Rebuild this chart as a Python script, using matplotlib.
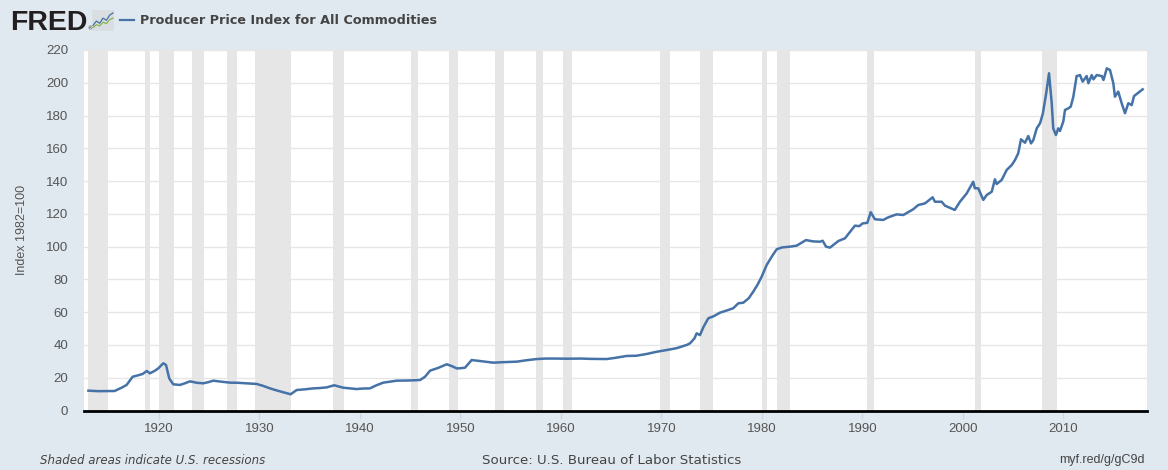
import matplotlib
matplotlib.use("Agg")
import matplotlib.pyplot as plt
import numpy as np

# ---------------- data ----------------
dates = [1913.0, 1914.0, 1915.0, 1915.6, 1916.3, 1916.8, 1917.4, 1917.96, 1918.4, 1918.8,
         1919.12, 1919.62, 1919.95, 1920.45, 1920.72, 1921.04, 1921.44, 1922.1, 1922.6, 1923.1,
         1923.8, 1924.43, 1925.0, 1925.42, 1926.2, 1927.08, 1927.9, 1928.75, 1929.74, 1930.4,
         1931.07, 1931.7, 1932.39, 1933.12, 1933.72, 1934.5, 1935.37, 1936.0, 1936.7, 1937.46,
         1938.36, 1939.0, 1939.69, 1940.3, 1941.01, 1941.7, 1942.34, 1943.0, 1943.67, 1944.8,
         1946.0, 1946.49, 1946.99, 1947.8, 1948.65, 1949.2, 1949.64, 1950.0, 1950.47, 1951.13,
         1951.96, 1953.28, 1954.3, 1955.61, 1956.5, 1957.6, 1958.5, 1959.5, 1960.59, 1962.0,
         1963.0, 1964.57, 1965.5, 1966.56, 1967.5, 1968.55, 1969.5, 1970.54, 1971.5, 1972.53,
         1972.86, 1973.3, 1973.52, 1973.85, 1974.2, 1974.68, 1975.2, 1975.84, 1976.5, 1977.16,
         1977.66, 1978.16, 1978.7, 1979.15, 1979.6, 1979.99, 1980.49, 1980.99, 1981.48, 1982.0,
         1982.81, 1983.47, 1984.4, 1985.1, 1985.79, 1986.06, 1986.39, 1986.79, 1987.61, 1988.28,
         1988.61, 1989.27, 1989.7, 1990.04, 1990.5, 1990.84, 1991.26, 1992.09, 1992.59, 1993.42,
         1994.08, 1995.07, 1995.57, 1996.24, 1997.0, 1997.23, 1997.9, 1998.23, 1999.2, 1999.72,
         2000.39, 2001.04, 2001.2, 2001.54, 2002.04, 2002.38, 2002.88, 2003.2, 2003.37, 2003.87,
         2004.37, 2004.87, 2005.2, 2005.52, 2005.79, 2006.19, 2006.52, 2006.79, 2007.02, 2007.36,
         2007.69, 2007.96, 2008.3, 2008.58, 2008.85, 2009.0, 2009.27, 2009.5, 2009.67, 2010.0,
         2010.17, 2010.5, 2010.74, 2011.0, 2011.33, 2011.66, 2011.93, 2012.33, 2012.5, 2012.83,
         2013.0, 2013.33, 2013.83, 2014.0, 2014.33, 2014.65, 2014.98, 2015.14, 2015.47, 2015.81,
         2016.14, 2016.47, 2016.81, 2017.04, 2017.46, 2017.9]

ppi = [12.1, 11.8, 11.9, 11.9, 13.9, 15.6, 20.6, 21.5, 22.3, 24.1,
       22.7, 24.3, 25.7, 28.8, 27.8, 19.6, 16.0, 15.6, 16.6, 17.8,
       16.9, 16.6, 17.4, 18.2, 17.6, 17.0, 16.9, 16.6, 16.2, 15.0,
       13.5, 12.3, 11.1, 9.9, 12.5, 12.9, 13.5, 13.7, 14.1, 15.4,
       13.9, 13.5, 13.1, 13.4, 13.5, 15.5, 17.0, 17.6, 18.2, 18.3,
       18.6, 20.6, 24.3, 26.0, 28.2, 27.0, 25.7, 25.8, 26.1, 30.8,
       30.2, 29.2, 29.5, 29.8, 30.6, 31.4, 31.7, 31.7, 31.6, 31.7,
       31.5, 31.4, 32.2, 33.3, 33.4, 34.5, 35.8, 36.9, 38.0, 40.0,
       41.0, 44.0, 47.1, 46.0, 51.0, 56.3, 57.5, 59.7, 61.0, 62.4,
       65.4, 65.8, 68.5, 72.5, 77.0, 81.7, 88.8, 93.9, 98.4, 99.5,
       100.0, 100.6, 104.0, 103.2, 103.0, 103.6, 100.0, 99.4, 103.4, 105.1,
       107.7, 112.8, 112.5, 114.2, 114.5, 121.0, 116.7, 116.3, 117.9, 119.7,
       119.3, 122.8, 125.4, 126.4, 130.1, 127.4, 127.4, 125.0, 122.4, 127.4,
       132.5, 139.6, 135.6, 135.6, 128.5, 131.5, 133.5, 141.1, 138.2, 140.7,
       146.8, 149.8, 152.9, 157.0, 165.5, 163.4, 167.5, 163.0, 165.0, 172.2,
       175.3, 181.0, 193.6, 205.8, 187.5, 172.2, 168.1, 172.2, 170.6, 176.3,
       183.4, 184.4, 185.4, 191.5, 204.1, 204.7, 200.7, 204.1, 199.7, 204.7,
       202.1, 204.7, 204.1, 201.7, 208.8, 207.8, 199.7, 191.5, 194.6, 187.5,
       181.4, 187.5, 186.4, 191.9, 193.9, 196.0]

rec_start = [1913.0, 1918.58, 1920.0, 1923.33, 1926.75, 1929.58, 1937.33, 1945.08, 1948.83,
             1953.5, 1957.58, 1960.25, 1969.92, 1973.83, 1980.0, 1981.5, 1990.5, 2001.17, 2007.92]
rec_end = [1914.92, 1919.17, 1921.5, 1924.5, 1927.83, 1933.17, 1938.42, 1945.75, 1949.75,
           1954.33, 1958.25, 1961.08, 1970.83, 1975.17, 1980.5, 1982.83, 1991.17, 2001.83, 2009.42]

x_ticks = [1920, 1930, 1940, 1950, 1960, 1970, 1980, 1990, 2000, 2010]
y_ticks = [0, 20, 40, 60, 80, 100, 120, 140, 160, 180, 200, 220]

# tiny decorative logo icon lines
icon_x = [0, 1, 2, 3, 4, 5, 6]
icon_blue = [1.0, 2.2, 1.6, 3.0, 2.4, 3.8, 4.4]
icon_green = [0.4, 1.2, 0.9, 1.9, 1.5, 2.6, 3.0]

# ---------------- style ----------------
BG = "#e1e9f0"
LINE = "#4572a7"
W, H = 1168, 470

fig = plt.figure(figsize=(W / 100, H / 100), dpi=100, facecolor=BG)
L, R, T, B = 84, 1147, 50, 410.5
ax = fig.add_axes([L / W, 1 - B / H, (R - L) / W, (B - T) / H])
ax.set_facecolor("white")

for s, e in zip(rec_start, rec_end):
    ax.axvspan(s, e, color="#e6e6e6", lw=0, zorder=0.5)

ax.plot(dates, ppi, color=LINE, lw=1.8, zorder=3, solid_joinstyle="round")

ax.set_xlim(1912.56, 2018.33)
ax.set_ylim(0, 220)
ax.set_yticks(y_ticks)
ax.set_xticks(x_ticks)
ax.yaxis.grid(True, color="#e6e6e6", lw=1, zorder=1)
ax.xaxis.grid(False)
ax.set_axisbelow(False)
for sp in ["top", "right", "left"]:
    ax.spines[sp].set_visible(False)
ax.spines["bottom"].set_color("black")
ax.spines["bottom"].set_linewidth(2)
ax.spines["bottom"].set_zorder(4)
ax.tick_params(axis="y", length=0, pad=11.5, labelsize=9.5, labelcolor="#555555")
ax.tick_params(axis="x", length=6, width=1, color="#ccd6eb", pad=3, labelsize=9.5,
               labelcolor="#555555")
for lab in ax.get_xticklabels() + ax.get_yticklabels():
    lab.set_fontfamily("Liberation Sans")

fig.text(22 / W, 1 - 230 / H, "Index 1982=100", rotation=90, ha="center", va="center",
         fontsize=9, color="#555555", family="Liberation Sans")

# header
fig.text(10 / W, 1 - 30 / H, "FRED", ha="left", va="baseline", fontsize=20.5,
         fontweight="bold", color="#231f20", family="Liberation Sans")
fig.text(87 / W, 1 - 30.5 / H, "\u00ae", ha="left", va="baseline", fontsize=3.5,
         color="#231f20", family="DejaVu Sans")
iax = fig.add_axes([92 / W, 1 - 31 / H, 22 / W, 21 / H])
iax.set_facecolor("#d9dee3")
iax.plot(icon_x, icon_blue, color="#4572a7", lw=0.9)
iax.plot(icon_x, icon_green, color="#8cb44a", lw=0.9)
iax.set_xlim(-0.3, 6.3)
iax.set_ylim(-0.5, 5.2)
iax.set_xticks([])
iax.set_yticks([])
for sp in iax.spines.values():
    sp.set_visible(False)

fig.add_artist(plt.Line2D([120 / W, 134 / W], [1 - 20 / H, 1 - 20 / H], color=LINE, lw=1.6))
fig.text(140 / W, 1 - 20 / H, "Producer Price Index for All Commodities", ha="left",
         va="center", fontsize=9.2, fontweight="bold", color="#444444", family="DejaVu Sans")

# footer
fig.text(40 / W, 1 - 460 / H, "Shaded areas indicate U.S. recessions", ha="left", va="center",
         fontsize=8.5, style="italic", color="#444444", family="DejaVu Sans")
fig.text(612 / W, 1 - 460 / H, "Source: U.S. Bureau of Labor Statistics", ha="center",
         va="center", fontsize=9.6, color="#444444", family="DejaVu Sans")
fig.text(1145 / W, 1 - 460 / H, "myf.red/g/gC9d", ha="right", va="center", fontsize=9,
         color="#444444", family="Liberation Sans")

fig.savefig("out.png", dpi=100, facecolor=BG)
